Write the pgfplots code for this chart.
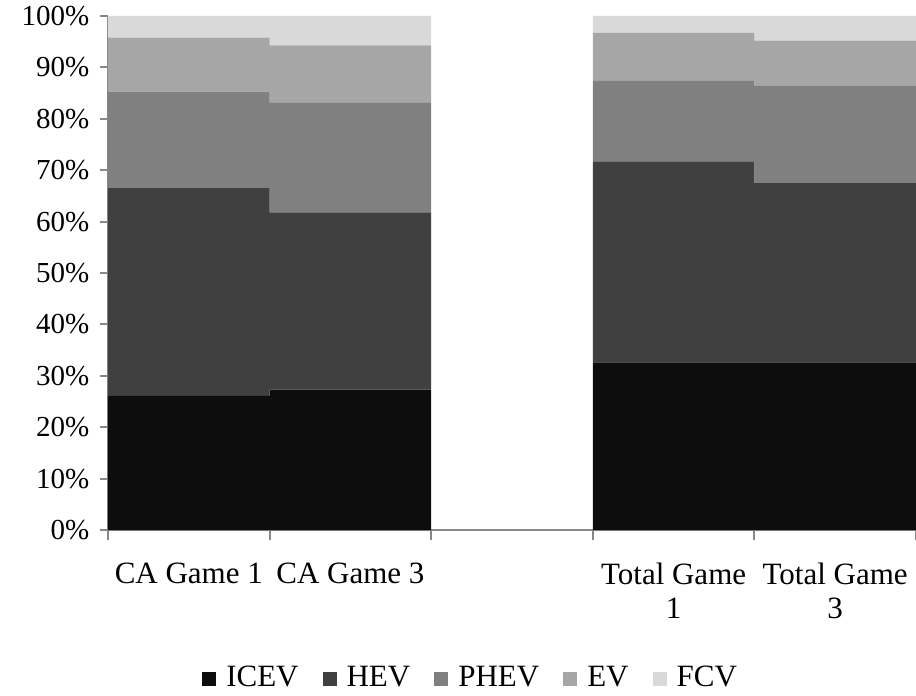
\documentclass[border=0pt]{standalone}
\usepackage{fontspec}
\setmainfont{Liberation Serif}
\usepackage{pgfplots}
\pgfplotsset{compat=1.18}
\usetikzlibrary{calc}
\definecolor{cICEV}{HTML}{0D0D0D}
\definecolor{cHEV}{HTML}{404040}
\definecolor{cPHEV}{HTML}{808080}
\definecolor{cEV}{HTML}{A6A6A6}
\definecolor{cFCV}{HTML}{D9D9D9}
\definecolor{axgray}{HTML}{878787}
\begin{document}
\fontsize{15.5}{17}\selectfont
\begin{tikzpicture}
\begin{axis}[
  name=ax,
  scale only axis, width=404pt, height=257pt,
  ybar stacked, bar width=1,
  xmin=-0.5, xmax=4.5, ymin=0, ymax=100,
  axis x line=bottom, axis y line=left,
  axis line style={draw=axgray, line width=1.3pt, -},
  tick align=outside,
  major tick length=4pt,
  ytick={0,10,...,100},
  yticklabels={0\%,10\%,20\%,30\%,40\%,50\%,60\%,70\%,80\%,90\%,100\%},
  y tick style={draw=axgray, line width=1pt},
  xtick={0,1,3,4},
  xticklabels={CA Game 1,CA Game 3,{Total Game\\1},{Total Game\\3}},
  x tick style={draw=none},
  xticklabel style={align=center, yshift=-7pt, font=\fontsize{15.5}{17}\selectfont},
  yticklabel style={font=\fontsize{14.5}{17}\selectfont},
  extra x ticks={-0.5,0.5,1.5,2.5,3.5,4.5},
  extra x tick labels={},
  extra x tick style={x tick style={draw=axgray, line width=1pt}, major tick length=5pt},
  legend style={at={(0.45,-0.29)}, anchor=center, draw=none, fill=none,
    legend columns=-1, font=\fontsize{15.5}{17}\selectfont,
    /tikz/every even column/.append style={column sep=10pt},
    /tikz/every odd column/.append style={column sep=3pt}},
  legend image code/.code={\fill[#1] (0pt,-3.5pt) rectangle (7pt,3.5pt);},
]
\addplot[fill=cICEV, draw=none] coordinates {(0,26.1) (1,27.3) (3,32.6) (4,32.6)};
\addplot[fill=cHEV, draw=none] coordinates {(0,40.4) (1,34.5) (3,39.1) (4,34.9)};
\addplot[fill=cPHEV, draw=none] coordinates {(0,18.8) (1,21.4) (3,15.7) (4,18.9)};
\addplot[fill=cEV, draw=none] coordinates {(0,10.5) (1,11.1) (3,9.3) (4,8.8)};
\addplot[fill=cFCV, draw=none] coordinates {(0,4.2) (1,5.7) (3,3.3) (4,4.8)};
\legend{ICEV,HEV,PHEV,EV,FCV}
\end{axis}
\pgfresetboundingbox
\path[use as bounding box] ($(ax.south west)+(-54pt,-83pt)$) rectangle ($(ax.north east)+(0pt,8pt)$);
\end{tikzpicture}
\end{document}
